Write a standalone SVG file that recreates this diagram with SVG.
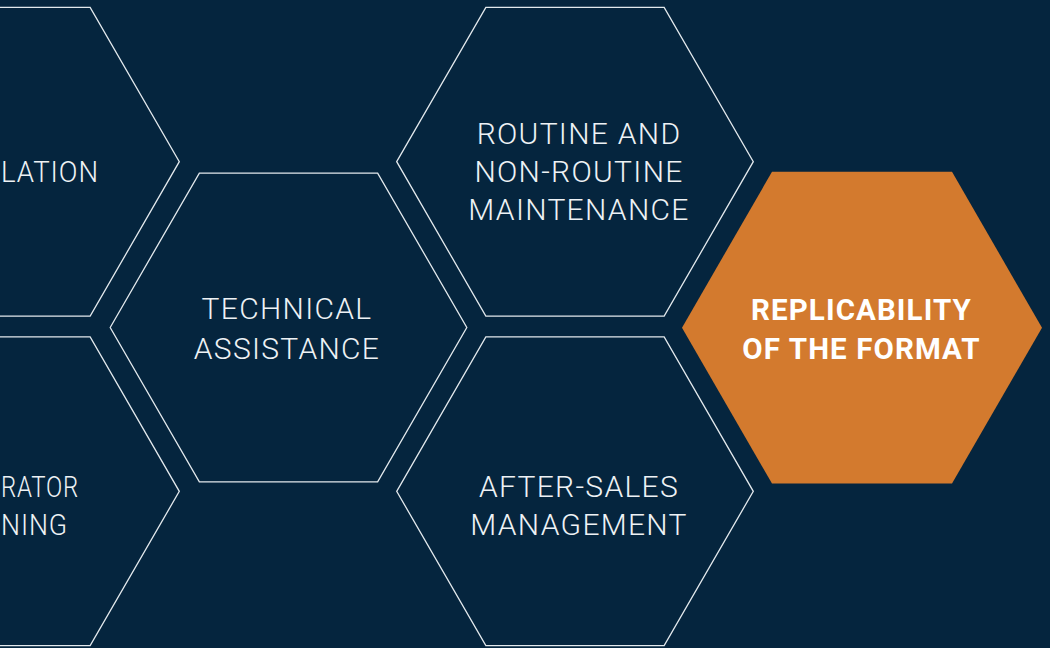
<svg xmlns="http://www.w3.org/2000/svg" xmlns:xlink="http://www.w3.org/1999/xlink" width="1050" height="648" viewBox="0 0 1050 648">
  <style>
    .hex { fill: none; stroke: #e3e9ed; stroke-width: 1.3; }
    .hexfill { fill: #d37a2e; stroke: none; }
    .lbl { font-family: Roboto, "Liberation Sans", sans-serif; font-weight: 300; font-size: 30px; fill: #eef2f5; text-anchor: middle; letter-spacing: 1.3px; }
    .edge { text-anchor: start; letter-spacing: 1px; }
    .bold { font-weight: 700; fill: #ffffff; font-size: 29.5px; letter-spacing: 1.1px; }
  </style>
  <defs>
    <polygon id="hx" points="-178.3,0 -89.15,-154.4 89.15,-154.4 178.3,0 89.15,154.4 -89.15,154.4"/>
    <polygon id="hxo" points="-180,0 -90,-155.9 90,-155.9 180,0 90,155.9 -90,155.9"/>
  </defs>
  <rect x="0" y="0" width="1050" height="648" fill="#05253e"/>

  <g id="node-installation">
    <use xlink:href="#hx" class="hex" transform="translate(1,161.7)"/>
    <text class="lbl edge" x="1" y="181.7" textLength="98" lengthAdjust="spacingAndGlyphs">LATION</text>
  </g>

  <g id="node-operator-training">
    <use xlink:href="#hx" class="hex" transform="translate(1,491.3)"/>
    <text class="lbl edge" x="1" y="496.7" textLength="78" lengthAdjust="spacingAndGlyphs">RATOR</text>
    <text class="lbl edge" x="1" y="535.3" textLength="67" lengthAdjust="spacingAndGlyphs">NING</text>
  </g>

  <g id="node-technical-assistance">
    <use xlink:href="#hx" class="hex" transform="translate(288.5,327.5)"/>
    <text class="lbl" x="287" y="319.3">TECHNICAL</text>
    <text class="lbl" x="287" y="359">ASSISTANCE</text>
  </g>

  <g id="node-routine-maintenance">
    <use xlink:href="#hx" class="hex" transform="translate(575,161.7)"/>
    <text class="lbl" x="579" y="144">ROUTINE AND</text>
    <text class="lbl" x="579" y="182.2">NON-ROUTINE</text>
    <text class="lbl" x="579" y="220">MAINTENANCE</text>
  </g>

  <g id="node-after-sales">
    <use xlink:href="#hx" class="hex" transform="translate(575,491.3)"/>
    <text class="lbl" x="579" y="496.7">AFTER-SALES</text>
    <text class="lbl" x="579" y="535.3">MANAGEMENT</text>
  </g>

  <g id="node-replicability">
    <use xlink:href="#hxo" class="hexfill" transform="translate(862,327.7)"/>
    <text class="lbl bold" x="861.5" y="320">REPLICABILITY</text>
    <text class="lbl bold" x="861.5" y="358.7">OF THE FORMAT</text>
  </g>

  <g id="connectors"></g>
</svg>
